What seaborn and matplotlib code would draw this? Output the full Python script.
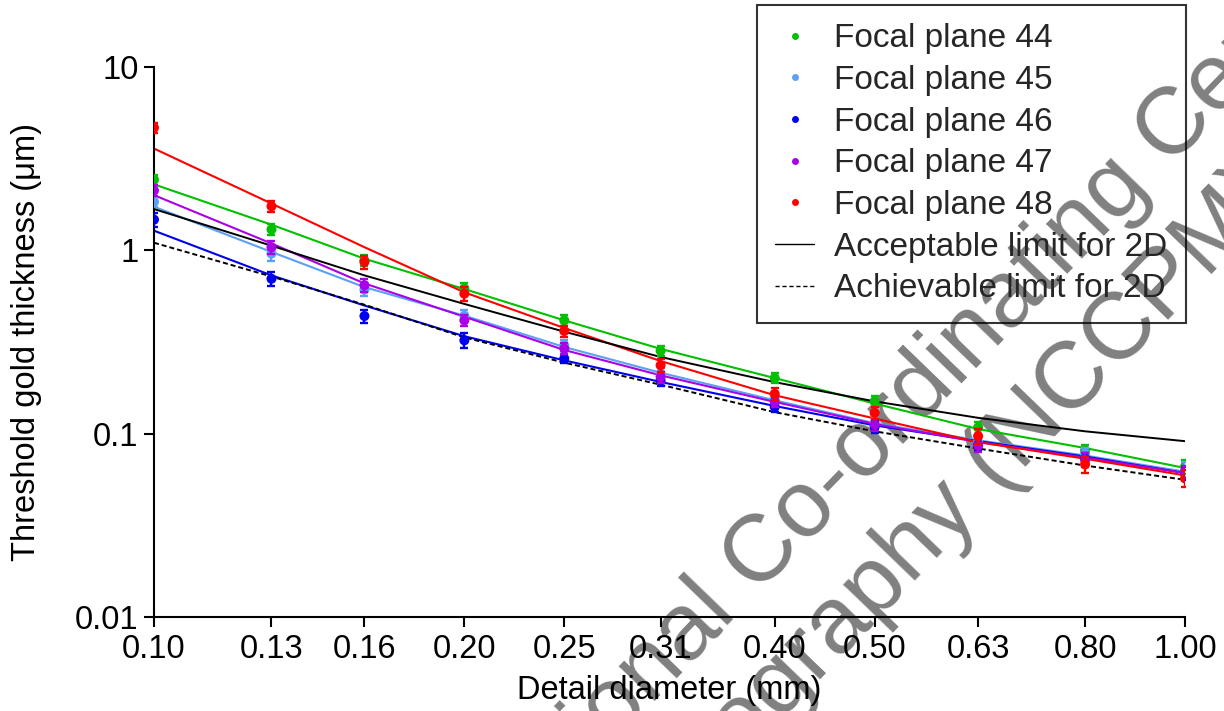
import numpy as np
import pandas as pd
import matplotlib
matplotlib.use("Agg")
import matplotlib.pyplot as plt
import seaborn as sns
from matplotlib.lines import Line2D
from matplotlib.ticker import FixedLocator, FixedFormatter, NullLocator

# ---- data -------------------------------------------------------------
diameters = [0.10, 0.13, 0.16, 0.20, 0.25, 0.31, 0.40, 0.50, 0.63, 0.80, 1.00]
x_tick_labels = ["0.10", "0.13", "0.16", "0.20", "0.25", "0.31",
                 "0.40", "0.50", "0.63", "0.80", "1.00"]
y_ticks = [0.01, 0.1, 1, 10]
y_tick_labels = ["0.01", "0.1", "1", "10"]

planes = ["Focal plane 44", "Focal plane 45", "Focal plane 46",
          "Focal plane 47", "Focal plane 48"]

# measured threshold gold thickness (um) and its error
mean_44 = [2.43, 1.30, 0.88, 0.62, 0.415, 0.283, 0.201, 0.150, 0.108, 0.081, 0.066]
mean_45 = [1.84, 0.96, 0.61, 0.44, 0.303, 0.212, 0.155, 0.115, 0.090, 0.078, 0.064]
mean_46 = [1.47, 0.70, 0.438, 0.323, 0.257, 0.195, 0.140, 0.109, 0.087, 0.073, 0.061]
mean_47 = [2.12, 1.04, 0.645, 0.415, 0.291, 0.204, 0.149, 0.112, 0.086, 0.072, 0.062]
mean_48 = [4.67, 1.74, 0.865, 0.58, 0.363, 0.236, 0.165, 0.130, 0.097, 0.068, 0.057]

err_44 = [0.16, 0.09, 0.06, 0.045, 0.028, 0.018, 0.013, 0.011, 0.008, 0.006, 0.006]
err_45 = [0.12, 0.08, 0.05, 0.030, 0.020, 0.015, 0.010, 0.009, 0.007, 0.006, 0.006]
err_46 = [0.13, 0.06, 0.035, 0.030, 0.015, 0.012, 0.009, 0.008, 0.006, 0.005, 0.005]
err_47 = [0.14, 0.08, 0.05, 0.030, 0.020, 0.014, 0.010, 0.008, 0.007, 0.006, 0.005]
err_48 = [0.30, 0.12, 0.07, 0.050, 0.025, 0.018, 0.012, 0.010, 0.009, 0.007, 0.006]

# fitted threshold curves
fit_44 = [2.29, 1.38, 0.90, 0.615, 0.415, 0.290, 0.201, 0.146, 0.106, 0.0835, 0.065]
fit_45 = [1.73, 0.98, 0.63, 0.44, 0.297, 0.215, 0.152, 0.114, 0.092, 0.076, 0.062]
fit_46 = [1.28, 0.73, 0.50, 0.34, 0.251, 0.1915, 0.1416, 0.111, 0.091, 0.075, 0.061]
fit_47 = [2.00, 1.09, 0.66, 0.434, 0.286, 0.208, 0.149, 0.113, 0.090, 0.074, 0.061]
fit_48 = [3.59, 1.80, 1.04, 0.59, 0.377, 0.249, 0.162, 0.121, 0.090, 0.073, 0.0592]

# 2D limiting values
acceptable_2d = [1.68, 1.06, 0.73, 0.51, 0.360, 0.262, 0.191, 0.150, 0.122, 0.103, 0.091]
achievable_2d = [1.10, 0.72, 0.505, 0.335, 0.244, 0.185, 0.131, 0.103, 0.083, 0.067, 0.056]

colors = ["#00C000", "#5AA0F5", "#0000F0", "#AA00E6", "#FF0000"]

means = [mean_44, mean_45, mean_46, mean_47, mean_48]
errs = [err_44, err_45, err_46, err_47, err_48]
fits = [fit_44, fit_45, fit_46, fit_47, fit_48]

points = pd.DataFrame({
    "diameter": np.tile(diameters, len(planes)),
    "thickness": np.concatenate(means),
    "error": np.concatenate(errs),
    "plane": np.repeat(planes, len(diameters)),
})
curves = pd.DataFrame({
    "diameter": np.tile(diameters, len(planes)),
    "thickness": np.concatenate(fits),
    "plane": np.repeat(planes, len(diameters)),
})
limits = pd.DataFrame({
    "diameter": np.tile(diameters, 2),
    "thickness": acceptable_2d + achievable_2d,
    "limit": ["Acceptable limit for 2D"] * len(diameters)
             + ["Achievable limit for 2D"] * len(diameters),
})

# ---- style ------------------------------------------------------------
sns.set_style("ticks")
plt.rcParams["font.family"] = ["Liberation Sans", "DejaVu Sans"]
plt.rcParams["axes.linewidth"] = 1.5
FS = 23.5

W, H = 1224, 711
fig = plt.figure(figsize=(W / 100, H / 100), dpi=100)
ax = fig.add_axes([154 / W, 1 - 617 / H, (1185 - 154) / W, (617 - 67) / H])
ax.set_facecolor("none")
ax.set_xscale("log")
ax.set_yscale("log")

palette = dict(zip(planes, colors))

sns.lineplot(data=curves, x="diameter", y="thickness", hue="plane",
             palette=palette, linewidth=1.5, legend=False, ax=ax,
             estimator=None, sort=True, zorder=2)
sns.lineplot(data=limits, x="diameter", y="thickness", style="limit",
             dashes={"Acceptable limit for 2D": "",
                     "Achievable limit for 2D": (2.6, 1.5)},
             color="black", linewidth=1.4, legend=False, ax=ax,
             estimator=None, zorder=2)

for i, plane in enumerate(planes):
    sub = points[points["plane"] == plane]
    ax.errorbar(sub["diameter"], sub["thickness"], yerr=sub["error"],
                fmt="none", ecolor=colors[i], elinewidth=1.7,
                capsize=3.2, capthick=1.7, zorder=3 + i * 0.1)
    sns.scatterplot(data=sub, x="diameter", y="thickness", color=colors[i],
                    s=52, edgecolor="none", legend=False, ax=ax,
                    zorder=3.05 + i * 0.1)

ax.set_xlim(0.1, 1.0)
ax.set_ylim(0.01, 10)
ax.xaxis.set_major_locator(FixedLocator(diameters))
ax.xaxis.set_major_formatter(FixedFormatter(x_tick_labels))
ax.xaxis.set_minor_locator(NullLocator())
ax.yaxis.set_major_locator(FixedLocator(y_ticks))
ax.yaxis.set_major_formatter(FixedFormatter(y_tick_labels))
ax.yaxis.set_minor_locator(NullLocator())
ax.tick_params(axis="both", which="major", direction="out", length=7,
               width=1.5, color="black", labelsize=FS, labelcolor="black")
ax.tick_params(axis="x", pad=5)
ax.tick_params(axis="y", pad=4)
sns.despine(ax=ax)
for sp in ("left", "bottom"):
    ax.spines[sp].set_color("black")
    ax.spines[sp].set_linewidth(1.5)

ax.set_xlabel("Detail diameter (mm)", fontsize=FS, color="black")
ax.set_ylabel("Threshold gold thickness (\u03bcm)", fontsize=FS, color="black")
ax.xaxis.set_label_coords(0.5, -0.105)
ax.yaxis.set_label_coords(-0.109, 0.5)

handles = [Line2D([], [], linestyle="none", marker="o", markersize=5,
                  markerfacecolor=c, markeredgecolor="none") for c in colors]
handles += [Line2D([], [], color="black", linewidth=1.0),
            Line2D([], [], color="black", linewidth=1.0, linestyle=(0, (3, 2)))]
labels = planes + ["Acceptable limit for 2D", "Achievable limit for 2D"]
leg = ax.legend(handles, labels, loc="upper right",
                bbox_to_anchor=(1186 / W, 1 - 5 / H),
                bbox_transform=fig.transFigure, fontsize=24,
                frameon=True, fancybox=False, facecolor="none",
                edgecolor="black", borderpad=0.55, labelspacing=0.32,
                handlelength=1.15, handletextpad=0.62, borderaxespad=0)
leg.get_frame().set_linewidth(1.5)

# watermark text behind the plot
wm_style = dict(rotation=46, rotation_mode="anchor", ha="left", va="baseline",
                fontsize=68, color="#808080", zorder=-5)
fig.text(498 / W, 1 - 864 / H,
         "National Co-ordinating Centre for the Physics of", **wm_style)
fig.text(543 / W, 1 - 967 / H, "Mammography (NCCPM)", **wm_style)

fig.savefig("out.png", dpi=100)
